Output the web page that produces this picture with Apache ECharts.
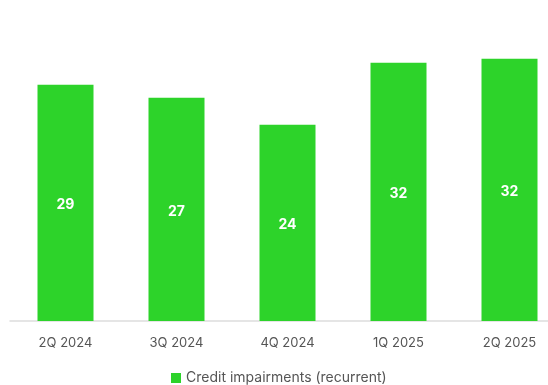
<!DOCTYPE html>
<html><head><meta charset="utf-8">
<script src="https://cdn.jsdelivr.net/npm/echarts@6/dist/echarts.min.js"></script>
<style>html,body{margin:0;padding:0;background:#fff}#c{width:548px;height:385px}</style>
</head><body><div id="c"></div>
<script>
const categories = ['2Q 2024','3Q 2024','4Q 2024','1Q 2025','2Q 2025'];
const impairments = [29.0, 27.4, 24.1, 31.7, 32.2];
const seriesName = 'Credit impairments (recurrent)';

const chart = echarts.init(document.getElementById('c'));
chart.setOption({
  animation: false,
  textStyle: {fontFamily: 'Inter, "Noto Sans", sans-serif'},
  grid: {left: 10, right: -17, top: 0, bottom: 64, outerBoundsMode: 'none', containLabel: false},
  legend: {
    data: [seriesName], top: 371, left: 171, padding: 0,
    itemWidth: 10, itemHeight: 10, itemGap: 6, icon: 'rect',
    textStyle: {color: '#555', fontSize: 14}
  },
  xAxis: {
    type: 'category', data: categories,
    axisLine: {lineStyle: {color: '#ddd', width: 1.5}},
    axisTick: {show: false},
    axisLabel: {color: '#555', fontSize: 13, margin: 16}
  },
  yAxis: {type: 'value', min: 0, max: 39.4, show: false, splitLine: {show: false}},
  series: [{
    name: seriesName, type: 'bar', data: impairments, barWidth: 56,
    itemStyle: {color: '#2dd32a'},
    label: {show: true, position: 'inside', offset: [0, 2], color: '#fff', fontWeight: 'bold', fontSize: 14,
      formatter: p => Math.round(p.value)}
  }]
});
</script></body></html>
